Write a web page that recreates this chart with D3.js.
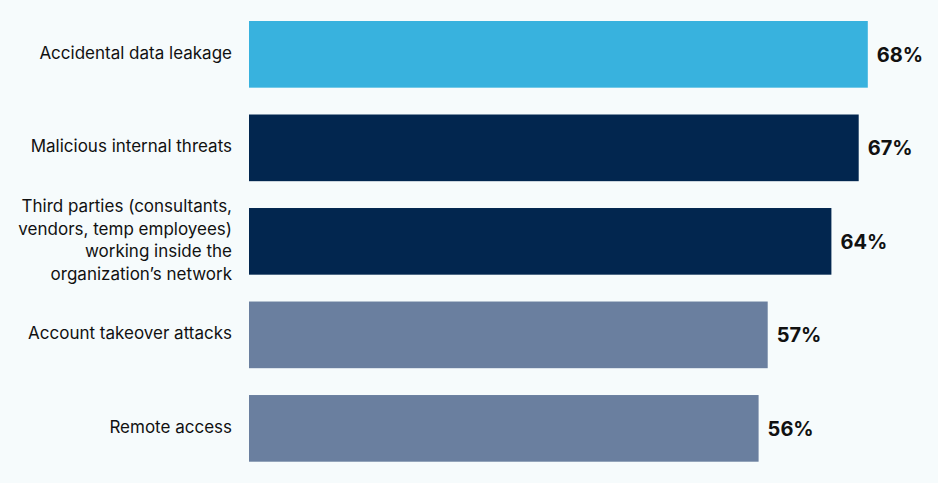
<!DOCTYPE html>
<html><head><meta charset="utf-8">
<script src="https://cdn.jsdelivr.net/npm/d3@7"></script>
<style>
html,body{margin:0;padding:0;background:#f6fbfc;}
svg{display:block;}
</style></head>
<body>
<svg id="chart" width="938" height="483"></svg>
<script>
const categories = [
  ["Accidental data leakage"],
  ["Malicious internal threats"],
  ["Third parties (consultants,", "vendors, temp employees)", "working inside the", "organization’s network"],
  ["Account takeover attacks"],
  ["Remote access"]
];
const values = [68, 67, 64, 57, 56];
const colors = ["#38b2de", "#02264f", "#02264f", "#6a7f9f", "#6a7f9f"];

const W = 938, H = 483;
const svg = d3.select("#chart");
svg.append("rect").attr("width", W).attr("height", H).attr("fill", "#f6fbfc");

const x = d3.scaleLinear().domain([0, 100]).range([249, 249 + 910]);
const step = 93.5, bh = 66.7;
const y = d3.scaleBand().domain(d3.range(values.length))
  .range([21, 21 + step * 4 + bh]).paddingInner(0.287).paddingOuter(0);

const g = svg.append("g");
g.selectAll("rect.bar").data(values).join("rect")
  .attr("class", "bar")
  .attr("x", x(0))
  .attr("y", (d, i) => y(i))
  .attr("width", d => x(d) - x(0))
  .attr("height", y.bandwidth())
  .attr("fill", (d, i) => colors[i]);

g.selectAll("text.val").data(values).join("text")
  .attr("class", "val")
  .attr("x", d => x(d) + 9)
  .attr("y", (d, i) => y(i) + y.bandwidth() / 2)
  .attr("dy", "0.36em")
  .attr("font-family", "Inter, 'Noto Sans', sans-serif")
  .attr("font-weight", 700)
  .attr("font-size", 20)
  .attr("fill", "#111")
  .text(d => d + "%");

const lh = 22.6;
const labels = g.selectAll("text.lab").data(categories).join("text")
  .attr("class", "lab")
  .attr("text-anchor", "end")
  .attr("font-family", "Inter, 'Noto Sans', sans-serif")
  .attr("font-size", 17)
  .attr("fill", "#111");
labels.each(function(lines, i) {
  const cy = y(i) + y.bandwidth() / 2 - 1.5;
  const t = d3.select(this);
  lines.forEach((ln, k) => {
    t.append("tspan")
      .attr("x", 232)
      .attr("y", cy + (k - (lines.length - 1) / 2) * lh)
      .attr("dy", "0.35em")
      .text(ln);
  });
});
</script>
</body></html>
